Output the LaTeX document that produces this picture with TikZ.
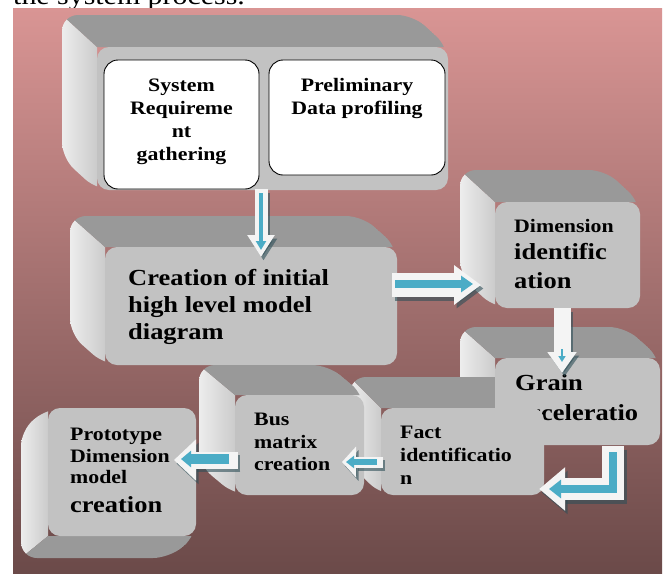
\documentclass[tikz,border=0pt]{standalone}
\usepackage{fontspec}
\newfontfamily\lbl{Liberation Serif}[FakeStretch=1.15]
\usetikzlibrary{arrows.meta,calc,fit}
\definecolor{bgtop}{HTML}{D99594}
\definecolor{bgmid}{HTML}{B47978}
\definecolor{bgbot}{HTML}{6B4A49}
\definecolor{facefront}{HTML}{C2C2C2}
\definecolor{facetop}{HTML}{999999}
\definecolor{sidelight}{HTML}{EDEDED}
\definecolor{sidedark}{HTML}{CBCBCB}
\definecolor{arrowblue}{HTML}{4BACC6}
\definecolor{arrowwhite}{HTML}{F4F4F4}
\definecolor{shadowteal}{HTML}{2F4F58}
% extrusion towards upper left: x1 y1 x2 y2 dx dy
\newcommand{\extrUL}[6]{%
  \begin{scope}
    \clip[rounded corners=16pt] (#1+#5,#2+#6) -- (#3+#5,#2+#6) -- (#3,#2) -- (#3,#4) -- (#1,#4) -- (#1+#5,#4+#6) -- cycle;
    \shade[left color=sidelight, right color=sidedark] (#1+#5,#2+#6) -- (#1,#2) -- (#1,#4) -- (#1+#5,#4+#6) -- cycle;
    \fill[facetop] (#1+#5,#2+#6) -- (#3+#5,#2+#6) -- (#3,#2) -- (#1,#2) -- cycle;
  \end{scope}}
\tikzset{
  front/.style={fill=facefront, rounded corners=12pt, inner sep=0pt, draw=none},
  wbox/.style={fill=white, draw=black, line width=0.9pt, rounded corners=14pt, inner sep=0pt},
  tsmall/.style={font={\lbl\bfseries\fontsize{19pt}{23pt}\selectfont}, inner sep=0pt, anchor=base west},
  tbig/.style={font={\lbl\bfseries\fontsize{23pt}{28pt}\selectfont}, inner sep=0pt, anchor=base west},
  arrshadow/.style={shadowteal, opacity=0.6, line join=miter, transform canvas={shift={(2.5pt,-3.5pt)}}},
  arrwhite/.style={arrowwhite, line join=miter},
  arrblue/.style={arrowblue, line join=miter},
}
\begin{document}
\begin{tikzpicture}[x=1pt,y=-1pt]
\useasboundingbox (0,0) rectangle (664,573);
\fill[white] (0,0) rectangle (664,573);
\node[anchor=base west, inner sep=0pt, font={\lbl\fontsize{26pt}{30pt}\selectfont}] (cap) at (13,4) {the system process.};
% background
\shade[top color=bgtop, middle color=bgmid, bottom color=bgbot] (13,8) rectangle (662,573);

% Box 1
\extrUL{97}{47}{448}{190}{-35}{-32}
\node[front, fit={(97,47) (448,190)}] (f1) {};
\node[wbox, fit={(104,60) (259,189)}] (w1) {};
\node[wbox, fit={(269,60) (445,175)}] (w2) {};
\node[tsmall, anchor=base] (w1a) at (181.5,91) {System};
\node[tsmall, anchor=base] (w1b) at (181.5,114) {Requireme};
\node[tsmall, anchor=base] (w1c) at (181.5,137) {nt};
\node[tsmall, anchor=base] (w1d) at (181.5,160) {gathering};
\node[tsmall, anchor=base] (w2a) at (357,91) {Preliminary};
\node[tsmall, anchor=base] (w2b) at (357,114) {Data profiling};

% Box 2
\extrUL{105}{247}{397}{365}{-35}{-31}
\node[front, fit={(105,247) (397,365)}] (f2) {};
\node[tbig] (t2a) at (128,285) {Creation of initial};
\node[tbig] (t2b) at (128,312) {high level model};
\node[tbig] (t2c) at (128,339) {diagram};

% Box 3
\extrUL{495}{202}{640}{308}{-35}{-32}
\node[front, fit={(495,202) (640,308)}] (f3) {};
\node[tsmall] (t3a) at (514,232) {Dimension};
\node[tbig] (t3b) at (514,259) {identific};
\node[tbig] (t3c) at (514,288) {ation};

% Box 4 and 5 extrusions
\extrUL{495}{358}{660}{445}{-35}{-31}
\extrUL{381}{408}{544}{495}{-31}{-31}
\node[front, fit={(495,358) (660,445)}] (f4) {};
\node[tbig] (t4a) at (515,390) {Grain};
\node[tbig] (t4b) at (516,420) {acceleratio};
\node[front, fit={(381,408) (544,495)}] (f5) {};
\node[tsmall] (t5a) at (400,438) {Fact};
\node[tsmall] (t5b) at (400,461) {identificatio};
\node[tsmall] (t5c) at (400,484) {n};

% Box 6
\extrUL{235}{395}{364}{495}{-36}{-30}
\node[front, fit={(235,395) (364,495)}] (f6) {};
\node[tsmall] (t6a) at (254,425) {Bus};
\node[tsmall] (t6b) at (254,448) {matrix};
\node[tsmall] (t6c) at (254,470) {creation};

% Box 7 (extruded down-left)
\begin{scope}
  \clip[rounded corners=16pt] (21,430) -- (48,408) -- (196,408) -- (196,536) -- (169,558) -- (21,558) -- cycle;
  \shade[left color=sidelight, right color=sidedark] (21,430) -- (48,408) -- (48,536) -- (21,558) -- cycle;
  \fill[facetop] (48,536) -- (196,536) -- (169,558) -- (21,558) -- cycle;
\end{scope}
\node[front, fit={(48,408) (196,536)}] (f7) {};
\node[tsmall] (t7a) at (70,440) {Prototype};
\node[tsmall] (t7b) at (70,462) {Dimension};
\node[tsmall] (t7c) at (70,483) {model};
\node[tbig] (t7d) at (70,512) {creation};

% ---------- arrows ----------
% A1: box 1 -> box 2
\coordinate (a1s) at (w1.south east -| 261,0);
\coordinate (a1e) at (261,257);
\coordinate (a1bs) at (261,193);
\coordinate (a1be) at (261,250);
\draw[arrshadow, line width=13pt, -{Triangle[width=26pt,length=22pt]}] (a1s) -- (a1e);
\draw[arrwhite, line width=13pt, -{Triangle[width=26pt,length=22pt]}] (a1s) -- (a1e);
\draw[arrblue, line width=4pt, -{Triangle[width=10pt,length=9pt]}] (a1bs) -- (a1be);

% A2: box 2 -> box 3
\coordinate (a2s) at ($(f2.east |- 0,285)+(-5,0)$);
\coordinate (a2e) at (481,285);
\coordinate (a2bs) at ($(f2.east |- 0,284)+(-2,0)$);
\coordinate (a2be) at (473,284);
\draw[arrshadow, line width=24pt, -{Triangle[width=38pt,length=27pt]}] (a2s) -- (a2e);
\draw[arrwhite, line width=24pt, -{Triangle[width=38pt,length=27pt]}] (a2s) -- (a2e);
\draw[arrblue, line width=8pt, -{Triangle[width=16pt,length=12pt]}] (a2bs) -- (a2be);

% A3: box 3 -> box 4
\coordinate (a3s) at (f3.south -| 562,0);
\coordinate (a3e) at (562,373);
\draw[arrshadow, line width=17pt, -{Triangle[width=28pt,length=21pt]}] (a3s) -- (a3e);
\draw[arrwhite, line width=17pt, -{Triangle[width=28pt,length=21pt]}] (a3s) -- (a3e);
\draw[arrblue, line width=2.5pt, -{Triangle[width=7pt,length=6pt]}] (562,349) -- (562,362);

% A4: box 4 -> box 5 (bent)
\coordinate (a4s) at ($(f4.south -| 613,0)+(0,1)$);
\coordinate (a4c) at (613,489);
\coordinate (a4e) at ($(f5.east |- 0,489)+(-5,0)$);
\coordinate (a4bs) at (613,452);
\coordinate (a4be) at (549,489);
\draw[arrshadow, line width=22pt, -{Triangle[width=42pt,length=26pt]}] (a4s) -- (a4c) -- (a4e);
\draw[arrwhite, line width=22pt, -{Triangle[width=42pt,length=26pt]}] (a4s) -- (a4c) -- (a4e);
\draw[arrblue, line width=8pt, -{Triangle[width=18pt,length=12pt]}] (a4bs) -- (a4c) -- (a4be);

% A5: box 5 -> box 6
\coordinate (a5s) at ($(f5.west |- 0,462)+(2,0)$);
\coordinate (a5e) at (342,462);
\coordinate (a5bs) at (377,462);
\coordinate (a5be) at (346,462);
\draw[arrshadow, line width=11pt, -{Triangle[width=30pt,length=14pt]}] (a5s) -- (a5e);
\draw[arrwhite, line width=11pt, -{Triangle[width=30pt,length=14pt]}] (a5s) -- (a5e);
\draw[arrblue, line width=6pt, -{Triangle[width=12pt,length=8pt]}] (a5bs) -- (a5be);

% A6: box 6 -> box 7
\coordinate (a6s) at ($(f6.west |- 0,460)+(3,0)$);
\coordinate (a6e) at (174,460);
\coordinate (a6bs) at (229,459);
\coordinate (a6be) at (181,459);
\draw[arrshadow, line width=17pt, -{Triangle[width=40pt,length=22pt]}] (a6s) -- (a6e);
\draw[arrwhite, line width=17pt, -{Triangle[width=40pt,length=22pt]}] (a6s) -- (a6e);
\draw[arrblue, line width=10pt, -{Triangle[width=16pt,length=10pt]}] (a6bs) -- (a6be);
\end{tikzpicture}
\end{document}
